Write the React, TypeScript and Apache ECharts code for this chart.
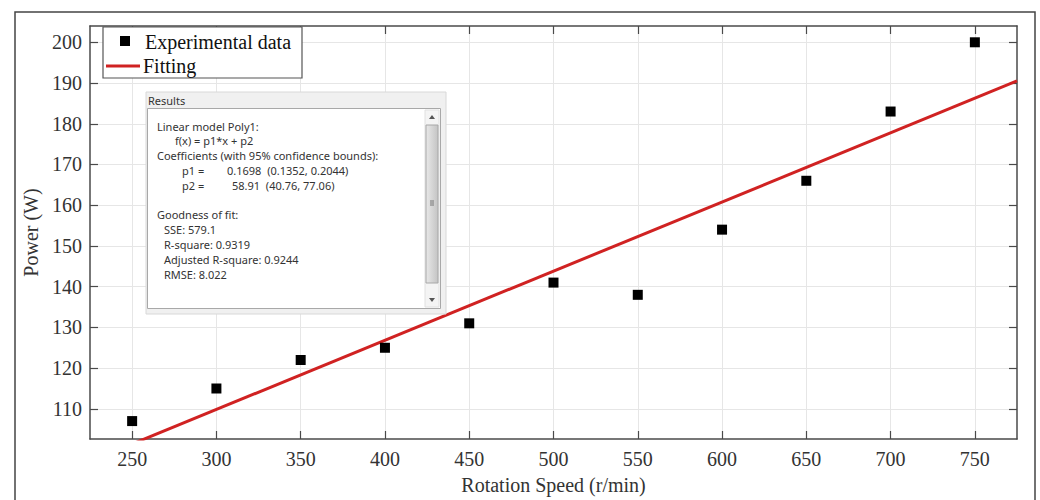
import React, { useEffect, useRef } from "react";
import * as echarts from "echarts";

const speedValues = [250, 300, 350, 400, 450, 500, 550, 600, 650, 700, 750];
const powerValues = [107, 115, 122, 125, 131, 141, 138, 154, 166, 183, 200];
const xTicks = [250, 300, 350, 400, 450, 500, 550, 600, 650, 700, 750];
const yTicks = [110, 120, 130, 140, 150, 160, 170, 180, 190, 200];
const fitX = [225, 775];
const fitY = [97.12, 190.51];
const resultLines = [
  { text: "Linear model Poly1:", dx: 0, row: 0 },
  { text: "f(x) = p1*x + p2", dx: 18, row: 1 },
  { text: "Coefficients (with 95% confidence bounds):", dx: 0, row: 2 },
  { text: "p1 =", dx: 25, row: 3 },
  { text: "0.1698  (0.1352, 0.2044)", dx: 70, row: 3 },
  { text: "p2 =", dx: 25, row: 4 },
  { text: "58.91  (40.76, 77.06)", dx: 75, row: 4 },
  { text: "Goodness of fit:", dx: 0, row: 6 },
  { text: "SSE: 579.1", dx: 7, row: 7 },
  { text: "R-square: 0.9319", dx: 7, row: 8 },
  { text: "Adjusted R-square: 0.9244", dx: 7, row: 9 },
  { text: "RMSE: 8.022", dx: 7, row: 10 },
];

const SERIF = "'Liberation Serif', 'Times New Roman', serif";
const SANS = "'Noto Sans', 'Open Sans', sans-serif";
const AX = "#4a4a4a";
const TXT = "#333333";

export default function App() {
  const ref = useRef<HTMLDivElement>(null);
  useEffect(() => {
    if (!ref.current) return;
    const chart = echarts.init(ref.current, null, { renderer: "svg" });
    const xMin = 225, xMax = 775, yMin = 102.6, yMax = 204;
    const baseX = {
      type: "value",
      min: xMin,
      max: xMax,
      axisLine: { show: true, onZero: false, lineStyle: { color: AX, width: 1.5 } },
      axisTick: { show: true, inside: true, length: 8, customValues: xTicks, lineStyle: { color: AX, width: 1.2 } },
    };
    const baseY = {
      type: "value",
      min: yMin,
      max: yMax,
      axisLine: { show: true, onZero: false, lineStyle: { color: AX, width: 1.5 } },
      axisTick: { show: true, inside: true, length: 8, customValues: yTicks, lineStyle: { color: AX, width: 1.2 } },
    };
    const textEls: any[] = resultLines.map((l) => ({
      type: "text",
      x: 157 + l.dx,
      y: 126 + l.row * 14.8,
      style: { text: l.text, fontFamily: SANS, fontSize: 11, fill: "#333333", verticalAlign: "middle" },
      z: 110,
    }));
    chart.setOption({
      animation: false,
      backgroundColor: "#ffffff",
      grid: { left: 90, top: 26, width: 927, height: 418, containLabel: false },
      xAxis: [
        {
          ...baseX,
          position: "bottom",
          axisLabel: { customValues: xTicks, fontFamily: SERIF, fontSize: 20, color: TXT, margin: 10 },
          splitLine: { show: true, lineStyle: { color: "#e6e6e6", width: 1 } },
          name: "Rotation Speed (r/min)",
          nameLocation: "middle",
          nameGap: 36,
          nameTextStyle: { fontFamily: SERIF, fontSize: 20, color: TXT },
        },
        { ...baseX, position: "top", axisLabel: { show: false }, splitLine: { show: false } },
      ],
      yAxis: [
        {
          ...baseY,
          position: "left",
          axisLabel: { customValues: yTicks, fontFamily: SERIF, fontSize: 20, color: TXT, margin: 8 },
          splitLine: { show: true, lineStyle: { color: "#e6e6e6", width: 1 } },
          name: "Power (W)",
          nameLocation: "middle",
          nameGap: 45,
          nameTextStyle: { fontFamily: SERIF, fontSize: 20, color: TXT },
        },
        { ...baseY, position: "right", axisLabel: { show: false }, splitLine: { show: false } },
      ],
      series: [
        {
          name: "Experimental data",
          type: "scatter",
          symbol: "rect",
          symbolSize: 10,
          itemStyle: { color: "#000000", opacity: 1 },
          data: speedValues.map((x, i) => [x, powerValues[i]]),
          z: 5,
        },
        {
          name: "Fitting",
          type: "line",
          symbol: "none",
          clip: true,
          lineStyle: { color: "#d02222", width: 3 },
          data: fitX.map((x, i) => [x, fitY[i]]),
          z: 4,
        },
      ],
      graphic: [
        { type: "rect", shape: { x: 15, y: 12, width: 1020, height: 500 }, style: { fill: "none", stroke: "#444", lineWidth: 1.5 }, z: 1, silent: true },
        { type: "rect", shape: { x: 103, y: 27, width: 199, height: 51 }, style: { fill: "#fff", stroke: "#555", lineWidth: 1.2 }, z: 100 },
        { type: "rect", shape: { x: 120, y: 36, width: 10, height: 10 }, style: { fill: "#000" }, z: 101 },
        { type: "text", x: 145, y: 42, style: { text: "Experimental data", fontFamily: SERIF, fontSize: 20, fill: "#111", verticalAlign: "middle" }, z: 101 },
        { type: "line", shape: { x1: 106, y1: 66, x2: 140, y2: 66 }, style: { stroke: "#d02222", lineWidth: 3 }, z: 101 },
        { type: "text", x: 143, y: 66, style: { text: "Fitting", fontFamily: SERIF, fontSize: 20, fill: "#111", verticalAlign: "middle" }, z: 101 },
        { type: "rect", shape: { x: 146, y: 92, width: 300, height: 222 }, style: { fill: "#f0f0f0", stroke: "#d8d8d8", lineWidth: 1 }, z: 100 },
        { type: "text", x: 148, y: 100, style: { text: "Results", fontFamily: SANS, fontSize: 11, fill: "#333", verticalAlign: "middle" }, z: 101 },
        { type: "rect", shape: { x: 147.5, y: 108.5, width: 293, height: 200 }, style: { fill: "#ffffff", stroke: "#a8a8a8", lineWidth: 1 }, z: 101 },
        { type: "rect", shape: { x: 425, y: 110, width: 14, height: 197 }, style: { fill: "#f4f4f4", stroke: "#e0e0e0", lineWidth: 1 }, z: 102 },
        { type: "polygon", shape: { points: [[429, 119], [435, 119], [432, 115]] }, style: { fill: "#555" }, z: 103 },
        { type: "polygon", shape: { points: [[429, 298], [435, 298], [432, 302]] }, style: { fill: "#555" }, z: 103 },
        {
          type: "rect",
          shape: { x: 426, y: 125, width: 12, height: 158 },
          style: {
            fill: new echarts.graphic.LinearGradient(0, 0, 1, 0, [
              { offset: 0, color: "#e8e8e8" },
              { offset: 0.5, color: "#d6d6d6" },
              { offset: 1, color: "#c4c4c4" },
            ]),
            stroke: "#a8a8a8",
            lineWidth: 1,
          },
          z: 103,
        },
        { type: "line", shape: { x1: 430, y1: 201, x2: 434, y2: 201 }, style: { stroke: "#777", lineWidth: 1 }, z: 104 },
        { type: "line", shape: { x1: 430, y1: 203, x2: 434, y2: 203 }, style: { stroke: "#777", lineWidth: 1 }, z: 104 },
        { type: "line", shape: { x1: 430, y1: 205, x2: 434, y2: 205 }, style: { stroke: "#777", lineWidth: 1 }, z: 104 },
        ...textEls,
      ],
    });
    return () => chart.dispose();
  }, []);
  return (
    <div
      ref={ref}
      style={{ position: "absolute", left: 0, top: 0, width: 1040, height: 500 }}
    />
  );
}
